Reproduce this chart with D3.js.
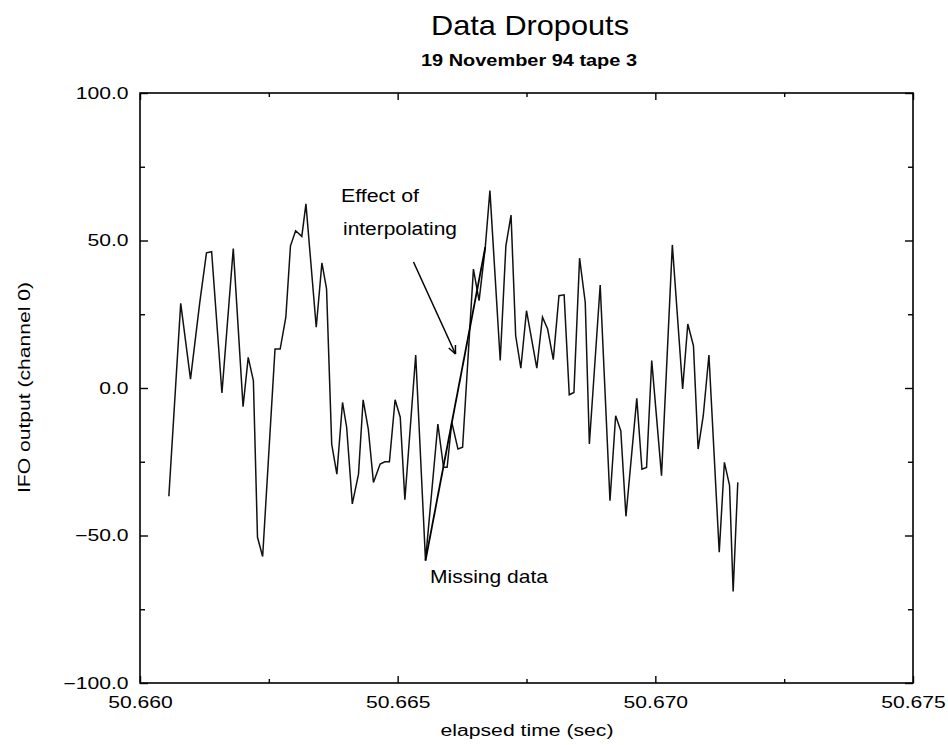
<!DOCTYPE html>
<html>
<head>
<meta charset="utf-8">
<script src="https://cdn.jsdelivr.net/npm/d3@7"></script>
<style>
  html, body { margin: 0; padding: 0; background: #fff; }
  svg { display: block; font-family: "Liberation Sans", Arial, Helvetica, sans-serif; }
</style>
</head>
<body>
<svg id="chart" width="948" height="745"></svg>
<script>
// IFO channel 0 samples around the dropout (elapsed time in s, output)
const times = [
  50.66056, 50.66079, 50.66098, 50.66116, 50.66129, 50.66139, 50.66159, 50.66181,
  50.66200, 50.66210, 50.66220, 50.66228, 50.66238, 50.66262, 50.66272, 50.66283,
  50.66292, 50.66302, 50.66314, 50.66322, 50.66342, 50.66353, 50.66362, 50.66372,
  50.66382, 50.66393, 50.66401, 50.66412, 50.66424, 50.66433, 50.66443, 50.66453,
  50.66466, 50.66475, 50.66484, 50.66495, 50.66505, 50.66514, 50.66535, 50.66554,
  50.66578, 50.66589, 50.66596, 50.66605, 50.66617, 50.66626, 50.66647, 50.66658,
  50.66670, 50.66679, 50.66699, 50.66710, 50.66720, 50.66729, 50.66739, 50.66750,
  50.66770, 50.66781, 50.66791, 50.66802, 50.66813, 50.66823, 50.66833, 50.66842,
  50.66853, 50.66864, 50.66872, 50.66893, 50.66912, 50.66923, 50.66933, 50.66943,
  50.66964, 50.66974, 50.66983, 50.66993, 50.67012, 50.67033, 50.67053, 50.67063,
  50.67074, 50.67083, 50.67093, 50.67104, 50.67124, 50.67134, 50.67144, 50.67151,
  50.67160
];
const values = [
  -36.7, 28.7, 3.0, 29.0, 45.8, 46.2, -1.7, 47.3,
  -6.3, 10.4, 2.5, -50.6, -57.1, 13.2, 13.2, 24.0,
  48.2, 53.3, 51.4, 62.4, 20.6, 42.4, 33.6, -19.0,
  -29.2, -4.9, -13.3, -39.3, -29.2, -4.0, -13.9, -32.0,
  -25.8, -25.0, -25.0, -4.0, -9.9, -37.9, 11.2, -58.5,
  -12.2, -26.9, -26.9, -11.6, -20.7, -20.1, 40.3, 29.6,
  47.7, 66.9, 9.3, 48.2, 58.6, 17.7, 6.7, 26.2,
  6.7, 24.0, 20.0, 9.6, 31.3, 31.6, -2.3, -1.5,
  44.0, 29.0, -19.0, 34.9, -38.2, -9.4, -14.5, -43.5,
  -3.5, -27.5, -26.9, 9.3, -29.7, 48.5, -0.3, 21.7,
  14.3, -20.7, -9.4, 11.2, -55.7, -25.2, -33.0, -69.0,
  -32.0
];

// straight segment bridged across the dropout
const interpTimes = [50.66554, 50.66670];
const interpValues = [-58.5, 47.7];

const xMajorTicks = [50.660, 50.665, 50.670, 50.675];
const xMinorTicks = [50.6625, 50.6675, 50.6725];
const yMajorTicks = [-100, -50, 0, 50, 100];
const yMinorTicks = [-75, -25, 25, 75];

const titleText = "Data Dropouts";
const subtitleText = "19 November 94 tape 3";
const xLabel = "elapsed time (sec)";
const yLabel = "IFO output (channel 0)";

const svg = d3.select("#chart");
const m = { left: 140, top: 93, right: 913, bottom: 683 };
const W = m.right - m.left, H = m.bottom - m.top;

const x = d3.scaleLinear().domain([50.660, 50.675]).range([0, W]);
const y = d3.scaleLinear().domain([-100, 100]).range([H, 0]);

const g = svg.append("g").attr("transform", `translate(${m.left},${m.top})`);

// frame
g.append("rect").attr("width", W).attr("height", H)
  .attr("fill", "none").attr("stroke", "#000").attr("stroke-width", 1.6);

const SX = 1.32; // wide sans labels
function styleAxis(sel) {
  sel.select(".domain").remove();
  sel.selectAll(".tick line").attr("stroke", "#000").attr("stroke-width", 1.4);
}

// bottom axis: labels + inward ticks
const bx = g.append("g").attr("transform", `translate(0,${H})`)
  .call(d3.axisBottom(x).tickValues(xMajorTicks).tickSize(-7).tickPadding(0)
        .tickFormat(d3.format(".3f")));
styleAxis(bx);
bx.selectAll(".tick text")
  .attr("y", 0).attr("dy", null)
  .attr("transform", `translate(0,25) scale(${SX},1)`)
  .attr("font-size", 16).attr("fill", "#000")
  .attr("font-family", '"Liberation Sans", Arial, sans-serif');
const bxm = g.append("g").attr("transform", `translate(0,${H})`)
  .call(d3.axisBottom(x).tickValues(xMinorTicks).tickSize(-4).tickFormat(""));
styleAxis(bxm);

// top axis ticks
const tx = g.append("g")
  .call(d3.axisTop(x).tickValues(xMajorTicks).tickSize(-7).tickFormat(""));
styleAxis(tx);
const txm = g.append("g")
  .call(d3.axisTop(x).tickValues(xMinorTicks).tickSize(-4).tickFormat(""));
styleAxis(txm);

// left axis
const ly = g.append("g")
  .call(d3.axisLeft(y).tickValues(yMajorTicks).tickSize(-8).tickPadding(0)
        .tickFormat(d3.format(".1f")));
styleAxis(ly);
ly.selectAll(".tick text")
  .attr("x", 0).attr("dy", "0.34em")
  .attr("transform", `translate(-11.5,0) scale(${SX},1)`)
  .attr("text-anchor", "end")
  .attr("font-size", 16).attr("fill", "#000")
  .attr("font-family", '"Liberation Sans", Arial, sans-serif');
const lym = g.append("g")
  .call(d3.axisLeft(y).tickValues(yMinorTicks).tickSize(-5).tickFormat(""));
styleAxis(lym);

// right axis ticks
const ry = g.append("g").attr("transform", `translate(${W},0)`)
  .call(d3.axisRight(y).tickValues(yMajorTicks).tickSize(-8).tickFormat(""));
styleAxis(ry);
const rym = g.append("g").attr("transform", `translate(${W},0)`)
  .call(d3.axisRight(y).tickValues(yMinorTicks).tickSize(-5).tickFormat(""));
styleAxis(rym);

// data trace
const line = d3.line().x(d => x(d[0])).y(d => y(d[1]));
g.append("path")
  .datum(times.map((t, i) => [t, values[i]]))
  .attr("d", line)
  .attr("fill", "none").attr("stroke", "#111").attr("stroke-width", 1.5)
  .attr("stroke-linejoin", "miter");

// interpolated bridge
g.append("path")
  .datum(interpTimes.map((t, i) => [t, interpValues[i]]))
  .attr("d", line)
  .attr("fill", "none").attr("stroke", "#000").attr("stroke-width", 1.8);

// text helper: fixed rendered width
function label(parent, txt, xPos, yPos, size, len, opts = {}) {
  return parent.append("text")
    .attr("x", xPos).attr("y", yPos)
    .attr("font-size", size)
    .attr("font-weight", opts.weight || "normal")
    .attr("text-anchor", opts.anchor || "start")
    .attr("textLength", len)
    .attr("lengthAdjust", "spacingAndGlyphs")
    .attr("fill", "#000")
    .text(txt);
}

// titles
label(svg, titleText, 530, 35, 28, 198, { anchor: "middle" });
label(svg, subtitleText, 529, 66, 16, 216, { anchor: "middle", weight: "bold" });

// axis titles
label(svg, xLabel, 527, 736, 16, 173, { anchor: "middle" });
label(svg, yLabel, 0, 0, 16, 211, { anchor: "middle" })
  .attr("transform", "translate(30,387.5) rotate(-90)");

// annotations
label(svg, "Effect of", 341, 202, 18, 78);
label(svg, "interpolating", 343, 235, 18, 114);
label(svg, "Missing data", 430, 583, 19, 118);

// arrow towards the bridged segment
const a0 = [413.5, 262], a1 = [455.5, 354];
svg.append("line")
  .attr("x1", a0[0]).attr("y1", a0[1]).attr("x2", a1[0]).attr("y2", a1[1])
  .attr("stroke", "#000").attr("stroke-width", 1.5);
const ang = Math.atan2(a1[1] - a0[1], a1[0] - a0[0]);
const head = 9, spread = 0.42;
[ang + Math.PI - spread, ang + Math.PI + spread].forEach(a => {
  svg.append("line")
    .attr("x1", a1[0]).attr("y1", a1[1])
    .attr("x2", a1[0] + head * Math.cos(a)).attr("y2", a1[1] + head * Math.sin(a))
    .attr("stroke", "#000").attr("stroke-width", 1.5);
});
</script>
</body>
</html>
